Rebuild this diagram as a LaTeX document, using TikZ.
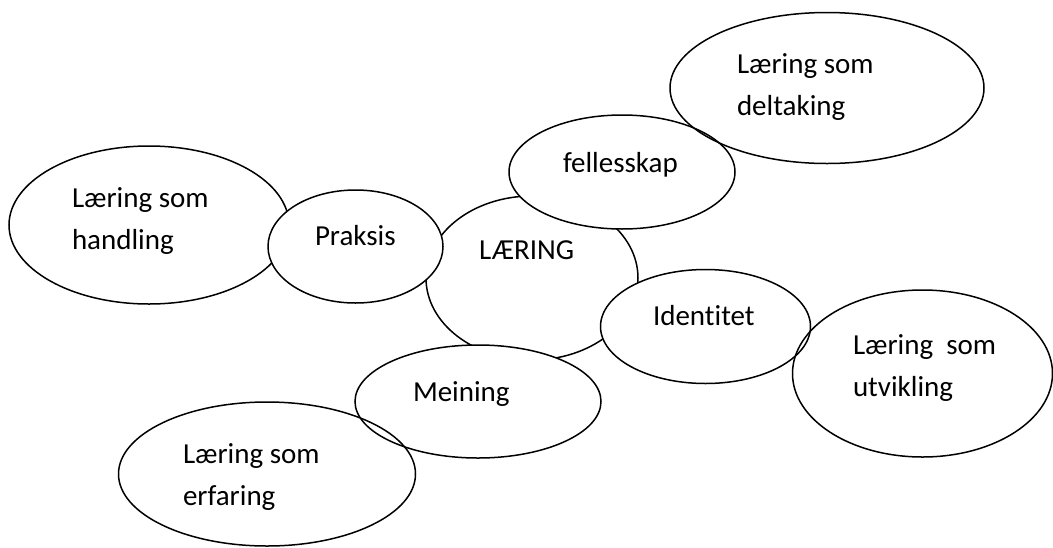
\documentclass[tikz,border=0pt]{standalone}
\usepackage{fontspec}
\setmainfont[Ligatures={NoCommon}]{Carlito}
\usetikzlibrary{shapes.geometric}
\begin{document}
\begin{tikzpicture}[x=1pt,y=-1pt,
  blob/.style={ellipse,draw=black,line width=1.5pt,inner sep=0pt,outer sep=0pt},
  solidblob/.style={blob,fill=white},
  hollowblob/.style={blob},
  lbl/.style={anchor=base west,inner sep=0pt,outer sep=0pt,font=\fontsize{29}{42}\selectfont}]
\useasboundingbox[fill=white] (0,0) rectangle (1053,547);
% filled shapes, back to front
\node[solidblob,minimum width=280,minimum height=158] (handling) at (149,225) {};
\node[solidblob,minimum width=212,minimum height=164] (laering) at (532,278) {};
\node[solidblob,minimum width=175,minimum height=113] (praksis) at (355.5,246.5) {};
\node[solidblob,minimum width=226,minimum height=114] (felles) at (622,172) {};
\node[solidblob,minimum width=210,minimum height=114] (identitet) at (705.5,326.5) {};
\node[solidblob,minimum width=246,minimum height=113] (meining) at (478,401.5) {};
% outlined shapes on top
\node[hollowblob,minimum width=314,minimum height=151] (deltaking) at (827,88) {};
\node[hollowblob,minimum width=260,minimum height=167] (utvikling) at (922.5,373.5) {};
\node[hollowblob,minimum width=297,minimum height=144] (erfaring) at (267,474) {};
% texts
\node[lbl] (thandling) at (72,207) {\begin{tabular}[t]{@{}l@{}}Læring som\\ handling\end{tabular}};
\node[lbl] (tpraksis) at (315,245) {Praksis};
\node[lbl] (tlaering) at (479,259) {LÆRING};
\node[lbl] (tfelles) at (563,172) {fellesskap};
\node[lbl] (tdeltaking) at (737,73) {\begin{tabular}[t]{@{}l@{}}Læring som\\ deltaking\end{tabular}};
\node[lbl] (tidentitet) at (653,325) {Identitet};
\node[lbl] (tmeining) at (413,401) {Meining};
\node[lbl] (terfaring) at (183,463) {\begin{tabular}[t]{@{}l@{}}Læring som\\ erfaring\end{tabular}};
\node[lbl] (tutvikling) at (853,354) {\begin{tabular}[t]{@{}l@{}}Læring\ \ som\\ utvikling\end{tabular}};
\end{tikzpicture}
\end{document}
